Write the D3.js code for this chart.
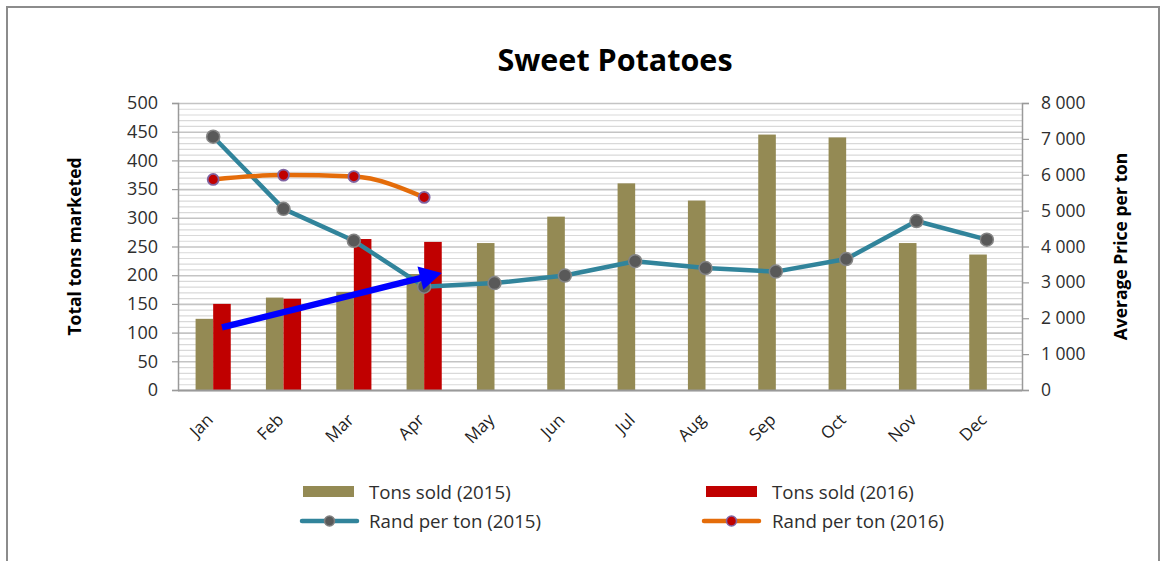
<!DOCTYPE html>
<html>
<head>
<meta charset="utf-8">
<script src="https://cdn.jsdelivr.net/npm/d3@7"></script>
<style>
  html, body { margin: 0; padding: 0; background: #fff; }
  svg { display: block; font-family: "Open Sans", sans-serif; }
</style>
</head>
<body>
<svg id="chart" width="1166" height="561"></svg>
<script>
// Monthly sweet potato volumes (tons) and average price (rand per ton)
const months = ["Jan", "Feb", "Mar", "Apr", "May", "Jun", "Jul", "Aug", "Sep", "Oct", "Nov", "Dec"];
const tons2015 = [124, 161, 171, 202, 256, 302, 360, 330, 445, 440, 256, 236];
const tons2016 = [150, 159, 263, 258, null, null, null, null, null, null, null, null];
const rand2015 = [7060, 5050, 4160, 2880, 2980, 3190, 3590, 3400, 3300, 3650, 4710, 4190];
const rand2016 = [5870, 5990, 5950, 5370, null, null, null, null, null, null, null, null];
const tonsTicks = [0, 50, 100, 150, 200, 250, 300, 350, 400, 450, 500];
const randTicks = [0, 1000, 2000, 3000, 4000, 5000, 6000, 7000, 8000];
// Trend arrow drawn over the 2016 bars (month, tons)
const trendFrom = { month: "Jan", tons: 109 };
const trendTo = { month: "Apr", tons: 204 };

const legendItems = [
  { label: "Tons sold (2015)", kind: "bar", color: "#948A54" },
  { label: "Tons sold (2016)", kind: "bar", color: "#C00000" },
  { label: "Rand per ton (2015)", kind: "line", color: "#31849B", dot: "#595959", dotStroke: "#7F7F7F" },
  { label: "Rand per ton (2016)", kind: "line", color: "#E46C0A", dot: "#C00000", dotStroke: "#8064A2" }
];

const svg = d3.select("#chart");
const plot = { left: 178, right: 1022, top: 103, bottom: 390 };
const labelColor = "#2E2E2E";

const x = d3.scaleBand().domain(months).range([plot.left, plot.right]).paddingInner(0).paddingOuter(0);
const xSub = d3.scaleBand().domain(["2015", "2016"]).range([0, x.bandwidth()]).paddingInner(0).paddingOuter(1);
const yTons = d3.scaleLinear().domain([0, 500]).range([plot.bottom, plot.top]);
const yRand = d3.scaleLinear().domain([0, 8000]).range([plot.bottom, plot.top]);
const cx = m => x(m) + x.bandwidth() / 2;

// Outer chart frame
svg.append("rect")
  .attr("x", 7).attr("y", 7).attr("width", 1152).attr("height", 620)
  .attr("fill", "none").attr("stroke", "#8C8C8C").attr("stroke-width", 2);

// Title
svg.append("text")
  .attr("x", 615).attr("y", 71)
  .attr("text-anchor", "middle")
  .attr("font-size", 30.5).attr("font-weight", 700).attr("fill", "#000")
  .text("Sweet Potatoes");

// Horizontal gridlines every 10 tons
const gridVals = d3.range(0, 501, 10);
svg.append("g").selectAll("line").data(gridVals).join("line")
  .attr("x1", plot.left).attr("x2", plot.right)
  .attr("y1", d => yTons(d) + 0.5).attr("y2", d => yTons(d) + 0.5)
  .attr("stroke", d => d % 50 === 0 ? "#C4C4C4" : "#D9D9D9")
  .attr("stroke-width", d => d % 50 === 0 ? 1.6 : 1.2);

// Left axis
const leftAxis = svg.append("g")
  .attr("transform", `translate(${plot.left},0)`)
  .call(d3.axisLeft(yTons).tickValues(tonsTicks).tickSize(6).tickPadding(14).tickFormat(d3.format("d")));
leftAxis.select(".domain").attr("stroke", "#9A9A9A").attr("stroke-width", 1.5);
leftAxis.selectAll(".tick line").attr("stroke", "#9A9A9A").attr("stroke-width", 1.2);
leftAxis.selectAll(".tick text")
  .attr("font-family", "Open Sans, sans-serif").attr("font-size", 18).attr("fill", labelColor);

// Right axis
const fmtRand = d => d3.format(",")(d).replace(/,/g, " ");
const rightAxis = svg.append("g")
  .attr("transform", `translate(${plot.right},0)`)
  .call(d3.axisRight(yRand).tickValues(randTicks).tickSize(7).tickPadding(12).tickFormat(fmtRand));
rightAxis.select(".domain").attr("stroke", "#9A9A9A").attr("stroke-width", 1.5);
rightAxis.selectAll(".tick line").attr("stroke", "#9A9A9A").attr("stroke-width", 1.2);
rightAxis.selectAll(".tick text")
  .attr("font-family", "Open Sans, sans-serif").attr("font-size", 17.5).attr("fill", labelColor);

// Bars
const barData = [];
months.forEach((m, i) => {
  if (tons2015[i] != null) barData.push({ m, year: "2015", v: tons2015[i], color: "#948A54" });
  if (tons2016[i] != null) barData.push({ m, year: "2016", v: tons2016[i], color: "#C00000" });
});
svg.append("g").selectAll("rect").data(barData).join("rect")
  .attr("x", d => x(d.m) + xSub(d.year))
  .attr("width", xSub.bandwidth())
  .attr("y", d => yTons(d.v))
  .attr("height", d => yTons(0) - yTons(d.v))
  .attr("fill", d => d.color);

// Bottom axis line
svg.append("line")
  .attr("x1", plot.left).attr("x2", plot.right)
  .attr("y1", plot.bottom + 0.5).attr("y2", plot.bottom + 0.5)
  .attr("stroke", "#9A9A9A").attr("stroke-width", 2);

// Month labels
svg.append("g").selectAll("text").data(months).join("text")
  .attr("transform", d => `translate(${cx(d) + 1},${plot.bottom + 31}) rotate(-45)`)
  .attr("text-anchor", "end")
  .attr("font-size", 17).attr("fill", "#1E1E1E")
  .text(d => d);

// Price lines
const pts2015 = months.map((m, i) => ({ m, v: rand2015[i] })).filter(d => d.v != null);
const pts2016 = months.map((m, i) => ({ m, v: rand2016[i] })).filter(d => d.v != null);

svg.append("path").datum(pts2015)
  .attr("d", d3.line().x(d => cx(d.m)).y(d => yRand(d.v)))
  .attr("fill", "none").attr("stroke", "#31849B").attr("stroke-width", 4.5)
  .attr("stroke-linejoin", "round");
svg.append("g").selectAll("circle").data(pts2015).join("circle")
  .attr("cx", d => cx(d.m)).attr("cy", d => yRand(d.v)).attr("r", 6.5)
  .attr("fill", "#595959").attr("stroke", "#858585").attr("stroke-width", 1.5);

svg.append("path").datum(pts2016)
  .attr("d", d3.line().curve(d3.curveMonotoneX).x(d => cx(d.m)).y(d => yRand(d.v)))
  .attr("fill", "none").attr("stroke", "#E46C0A").attr("stroke-width", 4.5)
  .attr("stroke-linejoin", "round");
svg.append("g").selectAll("circle").data(pts2016).join("circle")
  .attr("cx", d => cx(d.m)).attr("cy", d => yRand(d.v)).attr("r", 5.5)
  .attr("fill", "#C00000").attr("stroke", "#8064A2").attr("stroke-width", 1.8);

// Trend arrow
{
  const x0 = x(trendFrom.month) + xSub("2016") + xSub.bandwidth() / 2;
  const y0 = yTons(trendFrom.tons);
  const x1 = x(trendTo.month) + xSub("2016") + xSub.bandwidth();
  const y1 = yTons(trendTo.tons);
  const len = Math.hypot(x1 - x0, y1 - y0);
  const ux = (x1 - x0) / len, uy = (y1 - y0) / len;
  const headLen = 22, headHalf = 12;
  const bx = x1 - ux * headLen, by = y1 - uy * headLen;
  svg.append("line")
    .attr("x1", x0).attr("y1", y0).attr("x2", bx + ux * 2).attr("y2", by + uy * 2)
    .attr("stroke", "#0000FF").attr("stroke-width", 6.5);
  svg.append("path")
    .attr("d", `M${x1},${y1}L${bx - uy * headHalf},${by + ux * headHalf}L${bx + uy * headHalf},${by - ux * headHalf}Z`)
    .attr("fill", "#0000FF");
}

// Axis titles
svg.append("text")
  .attr("transform", `translate(81,${(plot.top + plot.bottom) / 2}) rotate(-90)`)
  .attr("text-anchor", "middle")
  .attr("font-size", 17.5).attr("font-weight", 700).attr("fill", "#000")
  .text("Total tons marketed");
svg.append("text")
  .attr("transform", `translate(1127,${(plot.top + plot.bottom) / 2}) rotate(-90)`)
  .attr("text-anchor", "middle")
  .attr("font-size", 17.5).attr("font-weight", 700).attr("fill", "#000")
  .text("Average Price per ton");

// Legend (two columns, two rows)
const legendPos = [
  { sx: 303, tx: 369, y: 492 },
  { sx: 706, tx: 772, y: 492 },
  { sx: 302, tx: 369, y: 521 },
  { sx: 704, tx: 772, y: 521 }
];
const lg = svg.append("g");
legendItems.forEach((it, i) => {
  const p = legendPos[i];
  if (it.kind === "bar") {
    lg.append("rect").attr("x", p.sx).attr("y", p.y - 6).attr("width", 51).attr("height", 11).attr("fill", it.color);
  } else {
    lg.append("line").attr("x1", p.sx).attr("x2", p.sx + 55).attr("y1", p.y).attr("y2", p.y)
      .attr("stroke", it.color).attr("stroke-width", 4.5).attr("stroke-linecap", "round");
    lg.append("circle").attr("cx", p.sx + 27.5).attr("cy", p.y).attr("r", 5)
      .attr("fill", it.dot).attr("stroke", it.dotStroke).attr("stroke-width", 1.5);
  }
  lg.append("text").attr("x", p.tx).attr("y", p.y).attr("dy", "0.35em")
    .attr("font-size", 18.7).attr("fill", labelColor).text(it.label);
});
</script>
</body>
</html>
